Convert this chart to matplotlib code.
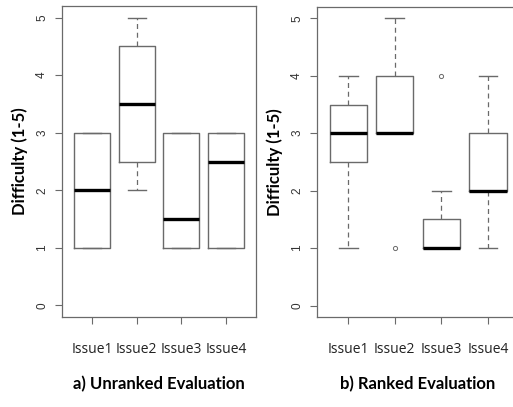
import matplotlib
matplotlib.use('Agg')
import matplotlib.pyplot as plt

issues = ['Issue1', 'Issue2', 'Issue3', 'Issue4']

# a) unranked evaluation
un_whislo = [1, 2, 1, 1]
un_q1 = [1, 2.5, 1, 1]
un_med = [2, 3.5, 1.5, 2.5]
un_q3 = [3, 4.5, 3, 3]
un_whishi = [3, 5, 3, 3]
un_fliers = [[], [], [], []]

# b) ranked evaluation
rk_whislo = [1, 3, 1, 1]
rk_q1 = [2.5, 3, 1, 2]
rk_med = [3, 3, 1, 2]
rk_q3 = [3.5, 4, 1.5, 3]
rk_whishi = [4, 5, 2, 4]
rk_fliers = [[], [1], [4], []]

LINE = '#6a6a6a'


def make_stats(whislo, q1, med, q3, whishi, fliers):
    stats = []
    for i in range(len(issues)):
        stats.append(dict(whislo=whislo[i], q1=q1[i], med=med[i], q3=q3[i],
                          whishi=whishi[i], fliers=fliers[i], label=issues[i]))
    return stats


def draw(ax, stats, title):
    ax.bxp(stats, widths=0.8, showfliers=True,
           boxprops=dict(color=LINE, linewidth=1.0),
           medianprops=dict(color='black', linewidth=2.4),
           whiskerprops=dict(color=LINE, linewidth=0.9, linestyle=(0, (4, 3))),
           capprops=dict(color=LINE, linewidth=1.0),
           capwidths=0.4,
           flierprops=dict(marker='o', markersize=3, markerfacecolor='none',
                           markeredgecolor=LINE, markeredgewidth=0.7))
    ax.set_xlim(0.33, 4.67)
    ax.set_ylim(-0.2, 5.2)
    ax.set_yticks([0, 1, 2, 3, 4, 5])
    ax.set_yticklabels(['0', '1', '2', '3', '4', '5'], rotation=90, va='center',
                       family='Liberation Sans', fontsize=8.5, color='#333333')
    ax.set_xticks([1, 2, 3, 4])
    ax.set_xticklabels(issues, family='Open Sans', fontsize=10, color='#222222')
    ax.tick_params(axis='both', length=5, width=0.8, color=LINE, direction='out')
    ax.tick_params(axis='x', pad=13)
    ax.tick_params(axis='y', pad=5)
    for s in ax.spines.values():
        s.set_color(LINE)
        s.set_linewidth(0.9)
    ax.set_ylabel('Difficulty (1-5)', family='Lato', fontweight='bold', fontsize=12,
                  labelpad=6)
    ax.set_xlabel(title, family='Lato', fontweight='bold', fontsize=12, labelpad=14)


fig = plt.figure(figsize=(5.13, 4.07), dpi=100)
ax1 = fig.add_axes([0.1209, 0.2211, 0.378, 0.764])
ax2 = fig.add_axes([0.618, 0.2211, 0.394, 0.762])

draw(ax1, make_stats(un_whislo, un_q1, un_med, un_q3, un_whishi, un_fliers),
     'a) Unranked Evaluation')
draw(ax2, make_stats(rk_whislo, rk_q1, rk_med, rk_q3, rk_whishi, rk_fliers),
     'b) Ranked Evaluation')

fig.savefig('out.png', dpi=100)
